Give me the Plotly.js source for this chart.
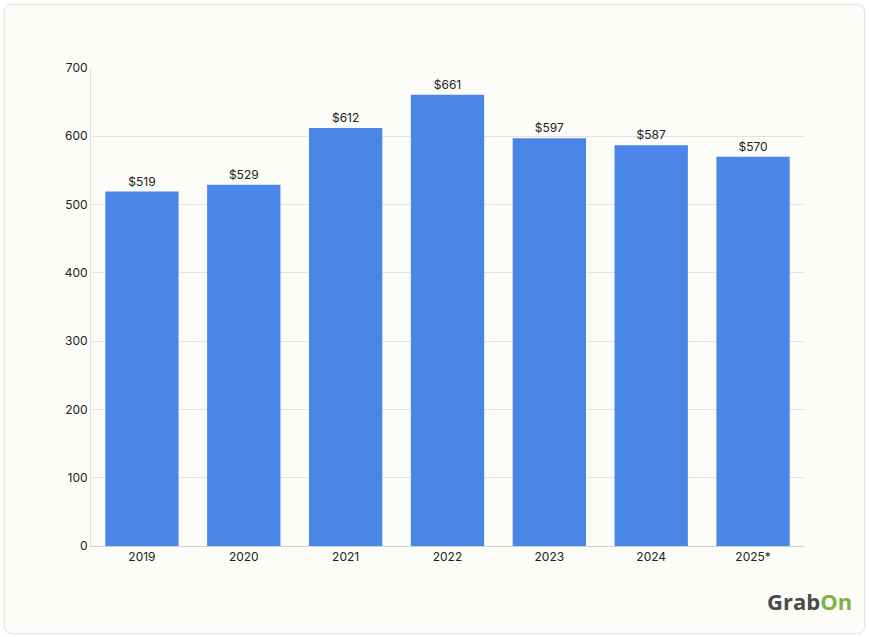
<!DOCTYPE html>
<html><head><meta charset="utf-8">
<script src="https://cdn.plot.ly/plotly-3.0.1.min.js"></script>
<style>
html,body{margin:0;padding:0;background:#ffffff;}
#card{position:absolute;left:4px;top:4px;width:859px;height:628px;border:1px solid #e4e4e4;border-radius:8px;background:#fcfdf9;box-shadow:0 0 3px rgba(0,0,0,0.08);overflow:hidden;}
#chart{position:absolute;left:-4px;top:-4px;width:869px;height:637px;}
</style></head>
<body>
<div id="card"><div id="chart"></div></div>
<script>
const years = ["2019","2020","2021","2022","2023","2024","2025*"];
const values = [519, 529, 612, 661, 597, 587, 570];
const labels = values.map(v => "$" + v);
const yTicks = [0,100,200,300,400,500,600,700];

const trace = {
  type: "bar",
  x: years,
  y: values,
  text: labels,
  textposition: "outside",
  cliponaxis: false,
  textfont: {family: "Inter, 'Liberation Sans', sans-serif", size: 12, color: "#222"},
  marker: {color: "#4a86e8"},
  hoverinfo: "x+y"
};
const layout = {
  width: 869, height: 637,
  margin: {l: 90, r: 66, t: 67, b: 92},
  paper_bgcolor: "rgba(0,0,0,0)",
  plot_bgcolor: "rgba(0,0,0,0)",
  bargap: 0.28,
  showlegend: false,
  font: {family: "Inter, 'Liberation Sans', sans-serif", size: 12, color: "#222"},
  xaxis: {
    type: "category",
    showline: true, linecolor: "#d0d0d0", linewidth: 1,
    ticks: "", tickfont: {size: 12, color: "#222"},
    showgrid: false
  },
  yaxis: {
    range: [0, 700], tickvals: yTicks, ticktext: yTicks.map(String),
    showline: true, linecolor: "#e0e0e0", linewidth: 1,
    gridcolor: "#e4e4e4", gridwidth: 1, zeroline: false,
    ticks: "", ticklen: 0, tickfont: {size: 12, color: "#222"}
  },
  annotations: [{
    xref: "paper", yref: "paper", x: 1.07, y: -0.115, xanchor: "right", yanchor: "middle",
    showarrow: false,
    text: "<b><span style='color:#4b4b4b'>Grab</span><span style='color:#7cb342'>On</span></b>",
    font: {family: "'Open Sans', 'Liberation Sans', sans-serif", size: 22}
  }]
};
Plotly.newPlot("chart", [trace], layout, {displayModeBar: false, staticPlot: true});
</script>
</body></html>
